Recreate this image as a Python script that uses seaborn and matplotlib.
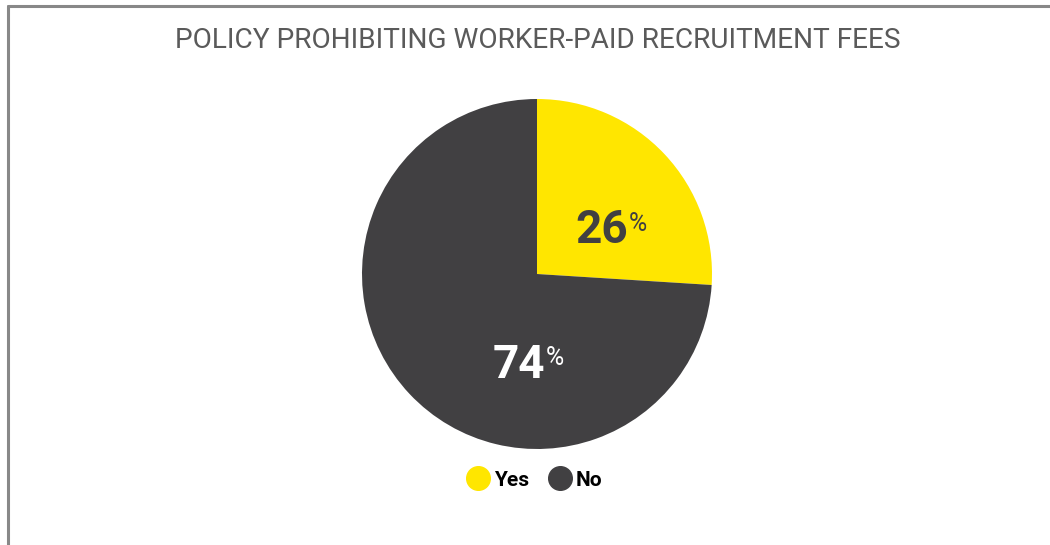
"""pie chart: policy prohibiting worker-paid recruitment fees"""

import matplotlib
matplotlib.use("Agg")
import matplotlib.pyplot as plt
from matplotlib.lines import Line2D
import seaborn as sns

labels = ["Yes", "No"]
shares = [26, 74]
colors = ["#FFE600", "#414042"]
label_colors = ["#414042", "#FFFFFF"]
title = "POLICY PROHIBITING WORKER-PAID RECRUITMENT FEES"

sns.set_theme(style="white")
plt.rcParams["font.family"] = ["Roboto", "DejaVu Sans"]

W, H = 1050, 545
fig = plt.figure(figsize=(W / 100, H / 100), dpi=100)
fig.patch.set_facecolor("white")

# pie axes: center (537, 274), radius 175 px
cx, cy, r = 537, 274, 175
ax = fig.add_axes([(cx - r) / W, (H - cy - r) / H, 2 * r / W, 2 * r / H])
ax.pie(shares, colors=colors, startangle=90, counterclock=False,
       radius=1, wedgeprops=dict(linewidth=0))
ax.set_xlim(-1, 1)
ax.set_ylim(-1, 1)
ax.set_aspect("equal")
ax.axis("off")

# value labels with a small superscript percent sign
label_pos = [(0.52, 0.25, 0.355), (0.046, -0.52, -0.41)]
for val, (x, y, ytop), col in zip(shares, label_pos, label_colors):
    ax.text(x, y, str(val), ha="right", va="center", fontsize=33,
            fontweight="bold", color=col)
    ax.text(x + 0.005, ytop, "%", ha="left", va="top", fontsize=18,
            color=col)

# title
fig.text(537.5 / W, 1 - 40 / H, title, ha="center", va="center",
         fontsize=20.2, fontweight="normal", color="#5a5a5a")

# legend with round markers
handles = [Line2D([], [], marker="o", linestyle="none", markersize=17,
                  markerfacecolor=c, markeredgecolor=c) for c in colors]
leg = fig.legend(handles, labels, loc="center", bbox_to_anchor=(534 / W, 1 - 480 / H),
                 ncol=2, frameon=False, handletextpad=0.15, columnspacing=0.9,
                 handlelength=1.2, prop=dict(size=15, weight="bold"))
for t in leg.get_texts():
    t.set_color("black")

# frame lines at top and left
fig.add_artist(Line2D([8 / W, 1], [1 - 6 / H, 1 - 6 / H], color="#888888",
                      linewidth=2.2, transform=fig.transFigure))
fig.add_artist(Line2D([8 / W, 8 / W], [0, 1 - 6 / H], color="#888888",
                      linewidth=2.2, transform=fig.transFigure))

fig.savefig("out.png", dpi=100)
